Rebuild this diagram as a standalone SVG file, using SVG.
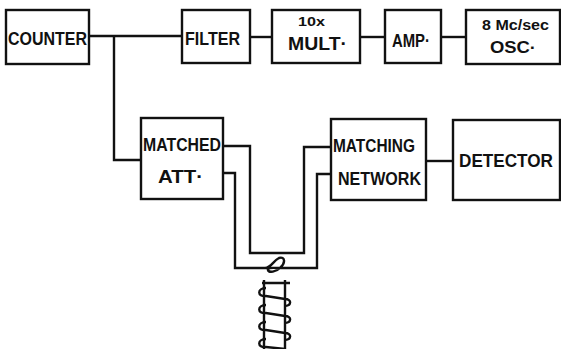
<svg xmlns="http://www.w3.org/2000/svg" width="561" height="349" viewBox="0 0 561 349">
<style>
.box{fill:#fff;stroke:#111;stroke-width:2.4}
.w{fill:none;stroke:#111;stroke-width:2.4;stroke-linejoin:miter}
text{font-family:"Liberation Sans",Arial,sans-serif;font-weight:bold;fill:#111}
</style>
<rect width="561" height="349" fill="#fff"/>
<g id="connectors">
<path class="w" d="M89,36 H182"/>
<path class="w" d="M114,36 V160 H141"/>
<path class="w" d="M250,37 H272"/>
<path class="w" d="M360,37 H385"/>
<path class="w" d="M441,37 H466"/>
<path class="w" d="M223,146 H250 V253 H304 V147 H331"/>
<path class="w" d="M223,173 H235 V268 H265 C271,268 273,261 279,258 C285,256 286,263 280,268 C276,272 269,273 268,270 C267,267 274,268 281,268 H317 V174 H331"/>
<path class="w" d="M426,161 H453"/>
</g>
<g id="counter"><rect class="box" x="6" y="10" width="83" height="54"/><text x="8" y="45" font-size="18" textLength="79" lengthAdjust="spacingAndGlyphs">COUNTER</text></g>
<g id="filter"><rect class="box" x="182" y="10" width="68" height="53"/><text x="185" y="45" font-size="18" textLength="55" lengthAdjust="spacingAndGlyphs">FILTER</text></g>
<g id="mult"><rect class="box" x="272" y="10" width="88" height="53"/><text x="298" y="26" font-size="12.5" textLength="27" lengthAdjust="spacingAndGlyphs">10x</text><text x="288" y="50" font-size="18" textLength="59" lengthAdjust="spacingAndGlyphs">MULT·</text></g>
<g id="amp"><rect class="box" x="385" y="10" width="56" height="53"/><text x="392" y="47" font-size="18" textLength="38" lengthAdjust="spacingAndGlyphs">AMP·</text></g>
<g id="osc"><rect class="box" x="466" y="10" width="94" height="54"/><text x="482" y="30" font-size="14" textLength="67" lengthAdjust="spacingAndGlyphs">8 Mc/sec</text><text x="490" y="53" font-size="16" textLength="46" lengthAdjust="spacingAndGlyphs">OSC·</text></g>
<g id="matched"><rect class="box" x="141" y="118" width="82" height="81"/><text x="143" y="151" font-size="18" textLength="78" lengthAdjust="spacingAndGlyphs">MATCHED</text><text x="158" y="183" font-size="18" textLength="45" lengthAdjust="spacingAndGlyphs">ATT·</text></g>
<g id="matching"><rect class="box" x="331" y="119" width="95" height="81"/><text x="333" y="152" font-size="17.5" textLength="82" lengthAdjust="spacingAndGlyphs">MATCHING</text><text x="338" y="185" font-size="17.5" textLength="83" lengthAdjust="spacingAndGlyphs">NETWORK</text></g>
<g id="detector"><rect class="box" x="453" y="120" width="107" height="80"/><text x="459" y="167" font-size="18.5" textLength="94" lengthAdjust="spacingAndGlyphs">DETECTOR</text></g>
<g id="coil">
<path class="w" d="M264,280 V349 M285,280 V349 M262,283 H290"/>
<path class="w" d="M266,288 C257,288 257,297 266,296 L285,299 C292,299 292,306 284,306"/>
<path class="w" d="M266,305 C257,305 257,314 266,313 L285,316 C292,316 292,323 284,323"/>
<path class="w" d="M266,322 C257,322 257,331 266,330 L285,333 C292,333 292,340 284,340"/>
<path class="w" d="M266,339 C257,339 257,348 266,347 L285,349"/>
</g>
</svg>
